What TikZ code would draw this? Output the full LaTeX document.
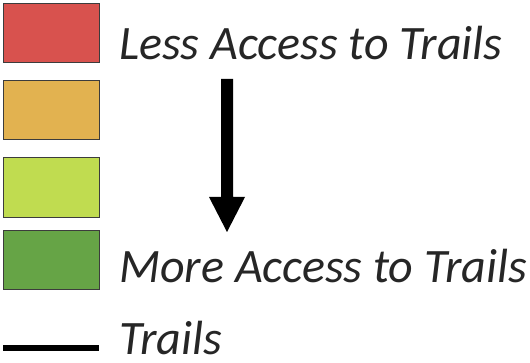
\documentclass[tikz,border=0pt]{standalone}
\usepackage{fontspec}
\setmainfont{Carlito}
\definecolor{cred}{RGB}{216,82,78}
\definecolor{corange}{RGB}{226,178,80}
\definecolor{cyellow}{RGB}{192,220,80}
\definecolor{cgreen}{RGB}{102,164,70}
\definecolor{ctext}{RGB}{38,38,38}
\definecolor{cedge}{RGB}{60,60,60}
\begin{document}
\begin{tikzpicture}[x=1pt,y=-1pt,
  swatch/.style={draw=cedge,line width=1pt},
  lbl/.style={anchor=base west,inner sep=0pt,text=ctext,font=\fontsize{48}{50}\selectfont\itshape}]
\useasboundingbox (0,0) rectangle (530,363);
\fill[swatch,fill=cred] (3,4) rectangle (99,63);
\fill[swatch,fill=corange] (3,81) rectangle (99,140);
\fill[swatch,fill=cyellow] (3,158) rectangle (99,218);
\fill[swatch,fill=cgreen] (3,231) rectangle (99,290);
\node[lbl] (less) at (119,60) {Less Access to Trails};
\node[lbl] (more) at (119,283) {More Access to Trails};
\node[lbl] (trails) at (119,354) {Trails};
\fill[black] (221,79) -- (233,79) -- (233,197) -- (245,197) -- (227,232) -- (209,197) -- (221,197) -- cycle;
\coordinate (la) at (3,348);
\coordinate (lb) at (99,348);
\draw[black,line width=6pt] (la) -- (lb);
\end{tikzpicture}
\end{document}
